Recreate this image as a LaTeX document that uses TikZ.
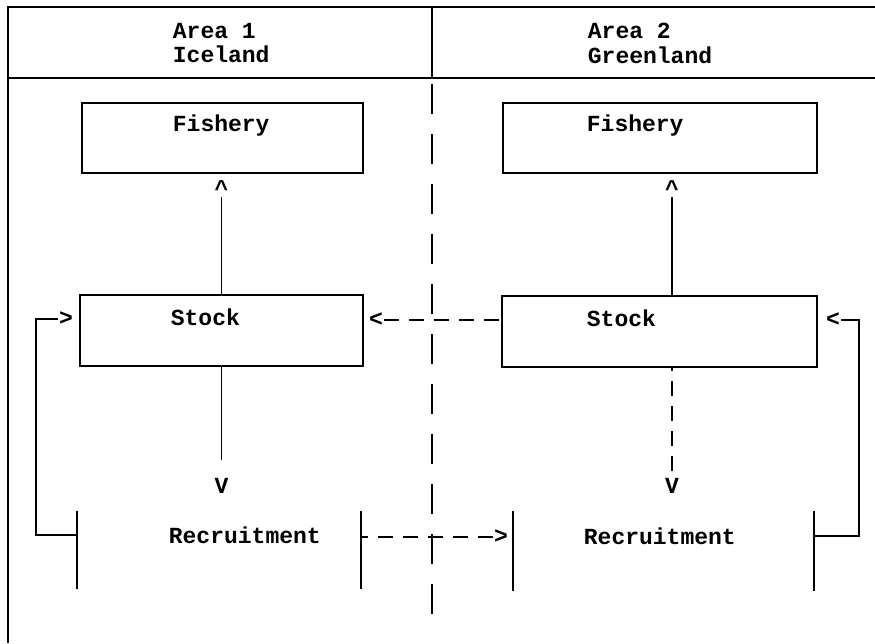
\documentclass[tikz,border=0pt]{standalone}
\usepackage{fontspec}
\newfontfamily\machine{Liberation Mono}

\begin{document}
\begin{tikzpicture}[x=0.02cm, y=-0.02cm, line width=1pt]
\tikzset{boite/.style={draw, inner sep=0pt},
  mot/.style={font=\machine\bfseries\fontsize{13.1}{14.2}\selectfont, inner sep=0pt},
  tiret/.style={dash pattern=on 0.3cm off 0.2cm}}
\useasboundingbox (0,0) rectangle (875,643);
% cadre
\draw (875,7) -- (8,7) -- (8,643);
\draw (8,78) -- (875,78);
\draw (432,7) -- (432,78);
\draw[dash pattern=on 0.6cm off 0.4cm] (432,84) -- (432,622);
% titres
\node[mot, anchor=north west, align=left] (titreA) at (172,22) {Area 1\\Iceland};
\node[mot, anchor=north west, align=left] (titreB) at (587,22) {Area 2\\Greenland};
% boites
\node[boite, minimum width=5.62cm, minimum height=1.4cm] (fishA) at (222.5,138) {};
\node[boite, minimum width=6.28cm, minimum height=1.4cm] (fishB) at (660,138) {};
\node[boite, minimum width=5.66cm, minimum height=1.42cm] (stockA) at (221.5,330.5) {};
\node[boite, minimum width=6.3cm, minimum height=1.42cm] (stockB) at (659.5,331.5) {};
\node[minimum width=5.64cm, minimum height=1.52cm, inner sep=0pt] (recA) at (219,550) {};
\node[minimum width=5.98cm, minimum height=1.56cm, inner sep=0pt] (recB) at (663.5,551) {};
\draw (recA.north west) -- (recA.south west);
\draw (recA.north east) -- (recA.south east);
\draw (recB.north west) -- (recB.south west);
\draw (recB.north east) -- (recB.south east);
% textes
\node[mot, anchor=base west] (fishAtxt) at (172,131) {Fishery};
\node[mot, anchor=base west] (fishBtxt) at (586,131) {Fishery};
\node[mot, anchor=base west] (stockAtxt) at (170,325) {Stock};
\node[mot, anchor=base west] (stockBtxt) at (586,326) {Stock};
\node[mot, anchor=base west] (recAtxt) at (168,543) {Recruitment};
\node[mot, anchor=base west] (recBtxt) at (583,544) {Recruitment};
% pointes
\node[mot, anchor=base] (hautA) at (221.5,196) {\textasciicircum};
\node[mot, anchor=base] (hautB) at (672,196) {\textasciicircum};
\node[mot, anchor=base] (basA) at (221.5,493) {V};
\node[mot, anchor=base] (basB) at (672,493) {V};
\node[mot] (versA) at (376,320) {<};
\node[mot] (versStockA) at (66,319) {>};
\node[mot] (versStockB) at (833,320) {<};
\node[mot] (versRecB) at (501,537) {>};
% fleches
\draw (stockA.north -| hautA) -- (hautA);
\draw (stockB.north -| hautB) -- (hautB);
\draw[shorten >=0.34cm] (stockA.south -| basA) -- (basA);
\draw[tiret, shorten <=0.12cm] (basB) -- (stockB.south -| basB);
\draw[tiret] (versA) -- (stockB.west |- versA);
\draw[tiret] (versRecB) -- (recA.east |- versRecB);
\draw (recA.west |- recAtxt) -| (36,319) -- (versStockA);
\draw (recB.east |- recBtxt) -| (859,320) -- (versStockB);
\end{tikzpicture}
\end{document}
